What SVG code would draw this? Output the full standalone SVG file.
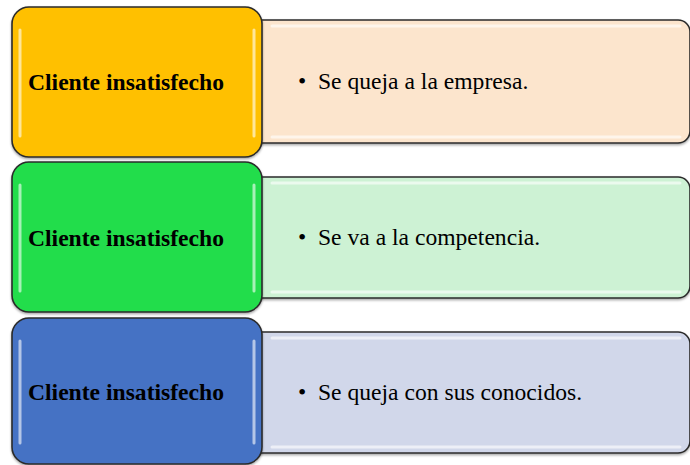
<svg xmlns="http://www.w3.org/2000/svg" width="690" height="465" viewBox="0 0 690 465">
<defs>
<style>
.box{stroke:#2b2b2b;stroke-width:1.6}
.hl{fill:none;stroke:#ffffff;stroke-width:3;stroke-opacity:0.6;stroke-linecap:round}
.lbl{font-family:"Liberation Serif","Times New Roman",serif;font-size:23.6px;font-weight:bold;fill:#000}
.txt{font-family:"Liberation Serif","Times New Roman",serif;font-size:23.6px;fill:#000}
</style>
<filter id="sh" x="-5%" y="-5%" width="110%" height="115%"><feDropShadow dx="0" dy="1.5" stdDeviation="1.2" flood-color="#000" flood-opacity="0.35"/></filter>
</defs>
<rect width="690" height="465" fill="#ffffff"/>

<g id="row1">
<g id="detail1">
<rect class="box" x="250" y="20" width="440" height="123" rx="12" fill="#FCE5CD" filter="url(#sh)"/>
<path class="hl" d="M272 26 H680"/>
<path class="hl" d="M272 137 H680"/>
<text class="txt" x="298" y="89">•</text>
<text class="txt" x="318" y="89">Se queja a la empresa.</text>
</g>
<g id="node1">
<rect class="box" x="12" y="7" width="250" height="150" rx="17" fill="#FFC000" filter="url(#sh)"/>
<path class="hl" d="M20 30 V136"/>
<path class="hl" d="M254 30 V136"/>
<text class="lbl" x="28" y="90">Cliente insatisfecho</text>
</g>
</g>

<g id="row2">
<g id="detail2">
<rect class="box" x="250" y="177" width="440" height="121" rx="12" fill="#CDF2D4" filter="url(#sh)"/>
<path class="hl" d="M272 183 H680"/>
<path class="hl" d="M272 292 H680"/>
<text class="txt" x="298" y="245">•</text>
<text class="txt" x="318" y="245">Se va a la competencia.</text>
</g>
<g id="node2">
<rect class="box" x="12" y="162" width="250" height="150" rx="17" fill="#22DD4B" filter="url(#sh)"/>
<path class="hl" d="M20 185 V291"/>
<path class="hl" d="M254 185 V291"/>
<text class="lbl" x="28" y="246">Cliente insatisfecho</text>
</g>
</g>

<g id="row3">
<g id="detail3">
<rect class="box" x="250" y="332" width="440" height="121" rx="12" fill="#D1D7EA" filter="url(#sh)"/>
<path class="hl" d="M272 338 H680"/>
<path class="hl" d="M272 447 H680"/>
<text class="txt" x="298" y="400">•</text>
<text class="txt" x="318" y="400">Se queja con sus conocidos.</text>
</g>
<g id="node3">
<rect class="box" x="12" y="318" width="250" height="146" rx="17" fill="#4472C4" filter="url(#sh)"/>
<path class="hl" d="M20 341 V443"/>
<path class="hl" d="M254 341 V443"/>
<text class="lbl" x="28" y="400">Cliente insatisfecho</text>
</g>
</g>

<g id="connectors"></g>
</svg>
